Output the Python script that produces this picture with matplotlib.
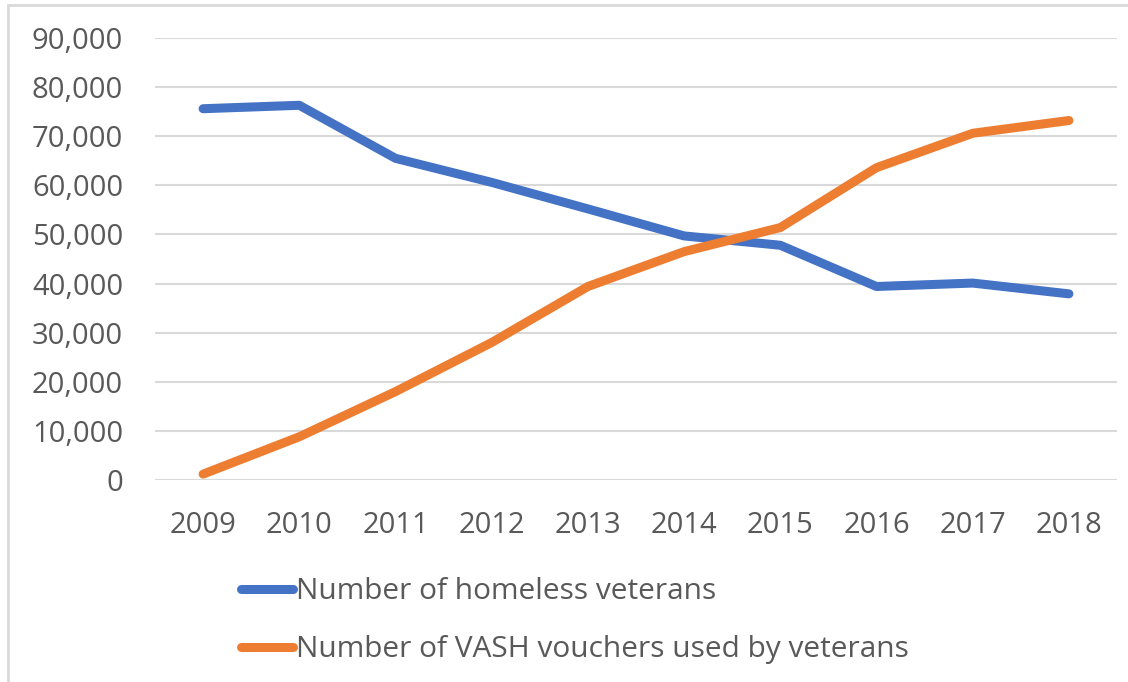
import matplotlib.pyplot as plt
from matplotlib.patches import Rectangle
from matplotlib.ticker import FuncFormatter

years = ["2009", "2010", "2011", "2012", "2013", "2014", "2015", "2016", "2017", "2018"]
homeless = [75600, 76300, 65500, 60600, 55200, 49700, 47800, 39400, 40100, 37900]
vash = [1200, 8800, 18000, 28000, 39400, 46500, 51400, 63600, 70600, 73200]

plt.rcParams['font.family'] = ['Open Sans', 'DejaVu Sans']
txt = "#595959"

fig = plt.figure(figsize=(11.28, 6.82), dpi=100)
ax = fig.add_axes([155/1128, 1 - 480/682, (1117 - 155)/1128, (480 - 38)/682])

x = range(len(years))
ax.plot(x, homeless, color="#4472C4", lw=6.5, solid_capstyle="round", solid_joinstyle="round",
        label="Number of homeless veterans")
ax.plot(x, vash, color="#ED7D31", lw=6.5, solid_capstyle="round", solid_joinstyle="round",
        label="Number of VASH vouchers used by veterans")

ax.set_xlim(-0.5, len(years) - 0.5)
ax.set_ylim(0, 90000)
ax.set_yticks(range(0, 90001, 10000))
ax.yaxis.set_major_formatter(FuncFormatter(lambda v, p: f"{int(v):,}"))
ax.set_xticks(list(x))
ax.set_xticklabels(years)
ax.grid(axis="y", color="#D9D9D9", lw=1.5)
ax.set_axisbelow(True)
for s in ax.spines.values():
    s.set_visible(False)
ax.tick_params(length=0, labelsize=21, colors=txt)
ax.tick_params(axis="y", pad=23)
ax.tick_params(axis="x", pad=22)

leg = fig.legend(loc="upper left", bbox_to_anchor=(241/1128, 1 - 577/682), frameon=False,
                 fontsize=21.5, handlelength=1.75, handletextpad=0.1, labelspacing=0.98,
                 borderpad=0, borderaxespad=0)
for t in leg.get_texts():
    t.set_color(txt)

fig.patches.append(Rectangle((8/1128, -0.1), 1.2, 1 - 5/682 + 0.1, transform=fig.transFigure,
                             fill=False, edgecolor="#D9D9D9", lw=2))

fig.savefig("out.png", dpi=100)
